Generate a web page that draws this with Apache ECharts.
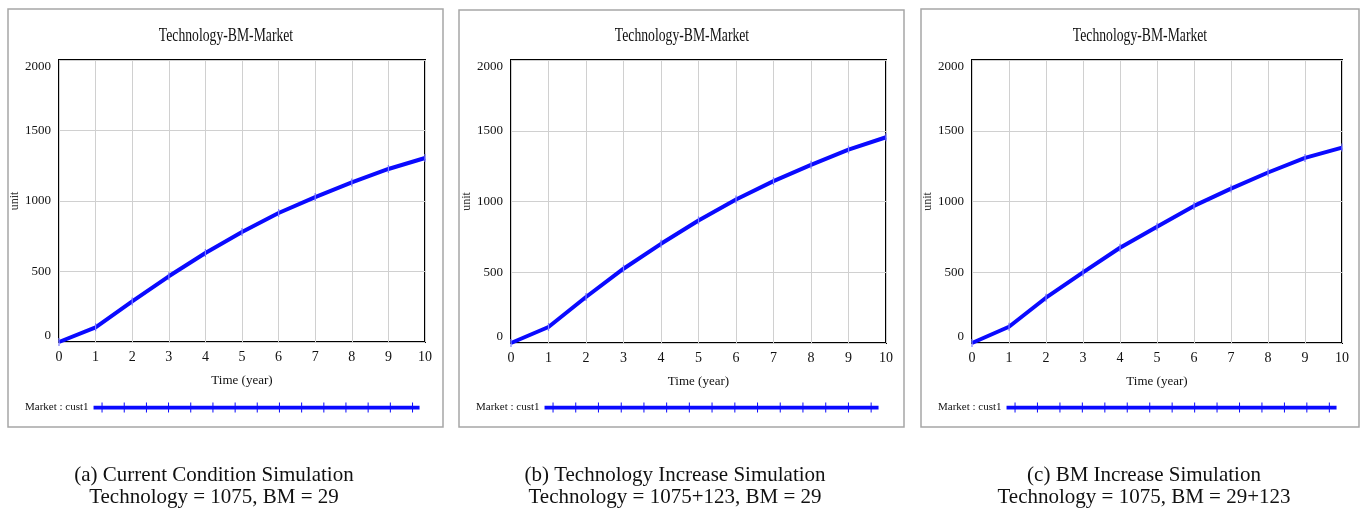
<!DOCTYPE html>
<html>
<head>
<meta charset="utf-8">
<script src="https://cdn.jsdelivr.net/npm/echarts@6/dist/echarts.min.js"></script>
<style>
  html, body { margin: 0; padding: 0; background: #fff; }
  #chart { width: 1365px; height: 512px; }
</style>
</head>
<body>
<div id="chart"></div>
<script>
// Simulated market (cust1) over ten years for three scenarios
const years = [0, 1, 2, 3, 4, 5, 6, 7, 8, 9, 10];
const marketCurrent = [0, 104, 288, 466, 631, 780, 915, 1028, 1132, 1227, 1305];
const marketTechUp  = [0, 113, 325, 525, 701, 866, 1014, 1144, 1259, 1367, 1454];
const marketBMUp    = [0, 115, 320, 499, 673, 821, 969, 1091, 1205, 1308, 1381];

const yTicks = [0, 500, 1000, 1500, 2000];
const chartTitle = 'Technology-BM-Market';
const xName = 'Time (year)';
const yName = 'unit';
const seriesName = 'Market : cust1';
const captionsTop = ['(a) Current Condition Simulation', '(b) Technology Increase Simulation', '(c) BM Increase Simulation'];
const captionsBottom = ['Technology = 1075, BM = 29', 'Technology = 1075+123, BM = 29', 'Technology = 1075, BM = 29+123'];

const FONT = '"Liberation Serif", "Times New Roman", serif';
const BLUE = '#0a0aff';

// panel frames, plot boxes, caption centres
const panels = [
  { frame: [8, 9, 435, 418],   grid: { left: 59,  top: 60, width: 366, height: 282 }, cx: 226,  capX: 214,  legendLeft: 25,  legendW: 326, values: marketCurrent },
  { frame: [459, 10, 445, 417], grid: { left: 511, top: 60, width: 375, height: 283 }, cx: 682,  capX: 675,  legendLeft: 476, legendW: 334, values: marketTechUp },
  { frame: [921, 9, 438, 418],  grid: { left: 972, top: 60, width: 370, height: 283 }, cx: 1140, capX: 1144, legendLeft: 938, legendW: 330, values: marketBMUp }
];

// legend icon: a thick bar with small ticks along it
function legendIconPath(w) {
  let p = 'path://M0,3.5H' + w + 'V6.5H0Z';
  const step = w / 14.7;
  for (let k = 0; k < 15; k++) {
    const x = (8 + k * step).toFixed(1);
    p += 'M' + x + ',1h1v8h-1Z';
  }
  return p;
}

const grids = [], xAxes = [], yAxes = [], series = [], legends = [], graphics = [];

panels.forEach((pn, i) => {
  grids.push(Object.assign({ show: true, borderColor: '#000', borderWidth: 2, backgroundColor: '#fff' }, pn.grid));

  xAxes.push({
    type: 'value', gridIndex: i, min: 0, max: 10, interval: 1,
    name: xName, nameLocation: 'middle', nameGap: 32,
    nameTextStyle: { fontFamily: FONT, fontSize: 13, color: '#111' },
    axisLine: { show: false }, axisTick: { show: false },
    axisLabel: { fontFamily: FONT, fontSize: 14, color: '#111', margin: 8 },
    splitLine: { show: true, lineStyle: { color: '#d0d0d0', width: 1 } }
  });

  yAxes.push({
    type: 'value', gridIndex: i, min: yTicks[0], max: yTicks[yTicks.length - 1], interval: yTicks[1] - yTicks[0],
    name: yName, nameLocation: 'middle', nameGap: 30, nameRotate: 90,
    nameTextStyle: { fontFamily: FONT, fontSize: 12, color: '#333' },
    axisLine: { show: false }, axisTick: { show: false },
    axisLabel: { fontFamily: FONT, fontSize: 13, color: '#111', margin: 8,
                 formatter: v => String(v),
                 verticalAlignMinLabel: 'bottom', verticalAlignMaxLabel: 'top' },
    splitLine: { show: true, lineStyle: { color: '#d0d0d0', width: 1 } }
  });

  series.push({
    type: 'line', name: seriesName, xAxisIndex: i, yAxisIndex: i,
    data: years.map((t, k) => [t, pn.values[k]]),
    lineStyle: { color: BLUE, width: 4 },
    itemStyle: { color: '#7c7cff', borderWidth: 0 },
    symbol: 'rect', symbolSize: [1.2, 8], showSymbol: true,
    silent: true, animation: false, z: 3
  });

  legends.push({
    data: [seriesName], left: pn.legendLeft, top: 402, orient: 'horizontal', padding: 0,
    align: 'right', selectedMode: false,
    icon: legendIconPath(pn.legendW), itemWidth: pn.legendW, itemHeight: 10, symbolKeepAspect: false,
    itemStyle: { color: BLUE, borderWidth: 0 },
    textStyle: { fontFamily: FONT, fontSize: 11, color: '#111' }
  });

  graphics.push({
    type: 'rect', silent: true, z: -1,
    shape: { x: pn.frame[0], y: pn.frame[1], width: pn.frame[2], height: pn.frame[3] },
    style: { fill: 'none', stroke: '#a6a6a6', lineWidth: 1.5 }
  });
  graphics.push({
    type: 'text', silent: true, x: pn.cx, y: 36, scaleX: 0.72,
    style: { text: chartTitle, fontFamily: FONT, fontSize: 19, fill: '#111', textAlign: 'center', textVerticalAlign: 'middle' }
  });
  graphics.push({
    type: 'text', silent: true, x: pn.capX, y: 475,
    style: { text: captionsTop[i], fontFamily: FONT, fontSize: 21, fill: '#111', textAlign: 'center', textVerticalAlign: 'middle' }
  });
  graphics.push({
    type: 'text', silent: true, x: pn.capX, y: 497,
    style: { text: captionsBottom[i], fontFamily: FONT, fontSize: 21, fill: '#111', textAlign: 'center', textVerticalAlign: 'middle' }
  });
});

const chart = echarts.init(document.getElementById('chart'), null, { renderer: 'canvas' });
chart.setOption({
  animation: false,
  backgroundColor: '#fff',
  grid: grids,
  xAxis: xAxes,
  yAxis: yAxes,
  series: series,
  legend: legends,
  graphic: graphics
});
</script>
</body>
</html>
